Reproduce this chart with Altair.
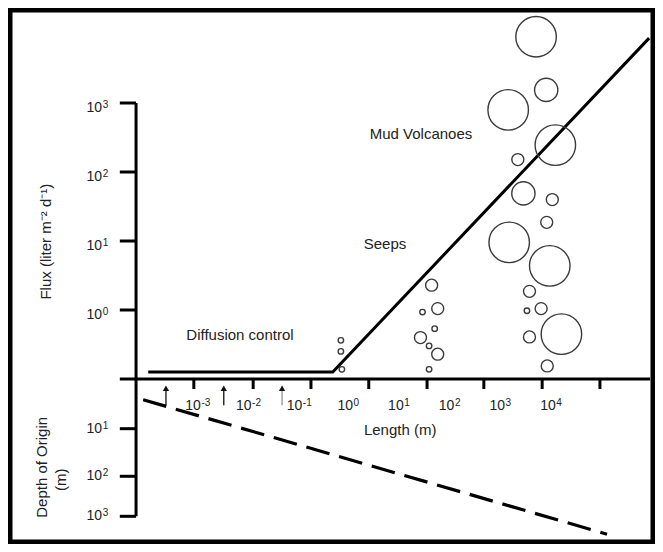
import altair as alt
import pandas as pd

# ---------------- data (schematic units: x = log10 length [m], y = log10 flux) ----------------
label_base = "10"
x_label_exp = ["-3", "-2", "-1", "0", "1", "2", "3", "4"]
x_label_pos = [-3, -2, -1, 0, 1, 2, 3, 4]
x_tick_pos = [-3.08, -1.91, -0.77, 0.37, 1.52, 2.64, 3.79, 4.93]
arrow_pos = [-3.63, -2.49, -1.34]

flux_label_exp = ["0", "1", "2", "3"]
flux_pos = [0, 1, 2, 3]
depth_label_exp = ["1", "2", "3"]
depth_pos = [-1.72, -2.41, -2.99]

# flux envelope: diffusion plateau then rising branch
trend_len = [-3.98, -0.34, 5.90]
trend_flux = [-0.90, -0.90, 3.94]

# depth of origin (dashed)
depth_len = [-4.08, 5.07]
depth_val = [-1.30, -3.25]

# seeps / mud volcanoes (circles)
circle_len = [3.67, 3.87, 3.12, 4.05, 3.31, 3.42, 3.99, 3.88, 3.14, 3.94, 3.54, 3.49, 3.77,
              4.17, 3.54, 3.89, 1.61, 1.43, 1.73, 1.67, 1.39, 1.56, 1.73, 1.56, -0.18, -0.18, -0.16]
circle_flux = [3.96, 3.19, 2.90, 2.39, 2.18, 1.69, 1.60, 1.27, 0.98, 0.64, 0.27, -0.01, 0.02,
               -0.35, -0.39, -0.81, 0.36, -0.03, 0.02, -0.27, -0.40, -0.52, -0.64, -0.86, -0.44, -0.60, -0.86]
circle_cls = ["large", "medium", "large", "large", "small", "medium", "small", "small", "large",
              "large", "small", "tiny", "small", "large", "small", "small", "small", "tiny", "small",
              "tiny", "small", "tiny", "small", "tiny", "tiny", "tiny", "tiny"]

annotations = ["Mud Volcanoes", "Seeps", "Diffusion control", "Length (m)"]
annot_len = [1.40, 0.69, -2.17, 0.99]
annot_flux = [2.55, 0.96, -0.36, -1.74]

side_titles = ["Flux (liter m⁻² d⁻¹)", "Depth of Origin", "(m)"]
side_len = [-6.00, -6.08, -5.70]
side_flux = [0.99, -2.28, -2.46]

# ---------------- layout constants ----------------
AXIS_F = -1.0          # level of the length axis
AXIS_L = -4.22         # position of the vertical axis
X_AXIS_START, X_AXIS_END = -4.54, 5.92
Y_AXIS_TOP, Y_AXIS_BOTTOM = 3.0, -2.99
TICK_OUT_L = -4.54
TICK_DOWN_F = -1.145
LABEL_L = -4.77
X_LABEL_F = -1.39
ARROW_TOP, ARROW_BOTTOM, ARROW_HEAD = -1.16, -1.38, -1.135

X_DOM = [-6.7456, 6.0158]
Y_DOM = [-3.3913, 4.3768]
W, H = 647, 536
FONT = "Liberation Sans"
TXT = "#222222"
BASE_FS, EXP_FS = 14, 10

xs = alt.Scale(domain=X_DOM, nice=False, zero=False)
ys = alt.Scale(domain=Y_DOM, nice=False, zero=False)


def X(f="x"):
    return alt.X(f"{f}:Q", scale=xs, axis=None)


def Y(f="y"):
    return alt.Y(f"{f}:Q", scale=ys, axis=None)


# axis frame rules
rows = [dict(x=X_AXIS_START, x2=X_AXIS_END, y=AXIS_F, y2=AXIS_F),
        dict(x=AXIS_L, x2=AXIS_L, y=Y_AXIS_TOP, y2=Y_AXIS_BOTTOM)]
for p in flux_pos:
    rows.append(dict(x=TICK_OUT_L, x2=AXIS_L, y=p, y2=p))
for p in depth_pos:
    rows.append(dict(x=TICK_OUT_L, x2=AXIS_L, y=p, y2=p))
for p in x_tick_pos:
    rows.append(dict(x=p, x2=p, y=AXIS_F, y2=TICK_DOWN_F))
rules_df = pd.DataFrame(rows)

axes = alt.Chart(rules_df).mark_rule(color="black", strokeWidth=3).encode(
    x=X(), x2="x2:Q", y=Y(), y2="y2:Q")

arrow_df = pd.DataFrame({"x": arrow_pos, "y": ARROW_BOTTOM, "y2": ARROW_TOP, "h": ARROW_HEAD})
shafts = alt.Chart(arrow_df).mark_rule(strokeWidth=1.4).encode(
    x=X(), y=Y(), y2="y2:Q",
    color=alt.condition(alt.datum.x > -2, alt.value("#9a9a9a"), alt.value("#222222")))
heads = alt.Chart(arrow_df).mark_point(shape="triangle-up", filled=True, size=40,
                                       color="#111111", opacity=1).encode(x=X(), y=Y("h"))

trend_df = pd.DataFrame({"x": trend_len, "y": trend_flux, "o": range(len(trend_len))})
trend = alt.Chart(trend_df).mark_line(color="black", strokeWidth=3).encode(
    x=X(), y=Y(), order="o:Q")

depth_df = pd.DataFrame({"x": depth_len, "y": depth_val, "o": range(len(depth_len))})
depth = alt.Chart(depth_df).mark_line(color="black", strokeWidth=3.2, strokeDash=[24, 10]).encode(
    x=X(), y=Y(), order="o:Q")

circ_df = pd.DataFrame({"x": circle_len, "y": circle_flux, "c": circle_cls})
circles = alt.Chart(circ_df).mark_point(shape="circle", filled=False, color="#3a3a3a",
                                        strokeWidth=1.4, opacity=1).encode(
    x=X(), y=Y(),
    size=alt.Size("c:N", scale=alt.Scale(type="ordinal",
                                         domain=["tiny", "small", "medium", "large"],
                                         range=[30, 144, 540, 1640]), legend=None))


def power_labels(pos_x, pos_y, exps, base_align, base_dx, exp_dx):
    df = pd.DataFrame({"x": pos_x, "y": pos_y, "b": label_base, "e": exps})
    base = alt.Chart(df).mark_text(font=FONT, fontSize=BASE_FS, color=TXT, align=base_align,
                                   baseline="middle", dx=base_dx).encode(x=X(), y=Y(), text="b:N")
    exp = alt.Chart(df).mark_text(font=FONT, fontSize=EXP_FS, color=TXT, align="left",
                                  baseline="middle", dx=exp_dx, dy=-3).encode(x=X(), y=Y(), text="e:N")
    return [base, exp]


xlab = power_labels(x_label_pos, X_LABEL_F, x_label_exp, "right", 3, 3.5)
flab = power_labels(LABEL_L, [p - 0.075 for p in flux_pos], flux_label_exp, "right", -6, -5.5)
dlab = power_labels(LABEL_L, depth_pos, depth_label_exp, "right", -6, -5.5)

an_df = pd.DataFrame({"x": annot_len, "y": annot_flux, "t": annotations})
annots = alt.Chart(an_df).mark_text(font=FONT, fontSize=15, color=TXT, align="center",
                                    baseline="middle").encode(x=X(), y=Y(), text="t:N")

st_df = pd.DataFrame({"x": side_len, "y": side_flux, "t": side_titles})
stitles = alt.Chart(st_df).mark_text(font=FONT, fontSize=15, color=TXT, align="center",
                                     baseline="middle", angle=270).encode(x=X(), y=Y(), text="t:N")

chart = alt.layer(axes, shafts, heads, trend, depth, circles, *xlab, *flab, *dlab,
                  annots, stitles).properties(
    width=W, height=H, padding=0,
    autosize=alt.AutoSizeParams(type="none"),
    background="white",
).configure_view(stroke="black", strokeWidth=9)

chart.save("out.html", embed_options={"renderer": "svg", "actions": False})
